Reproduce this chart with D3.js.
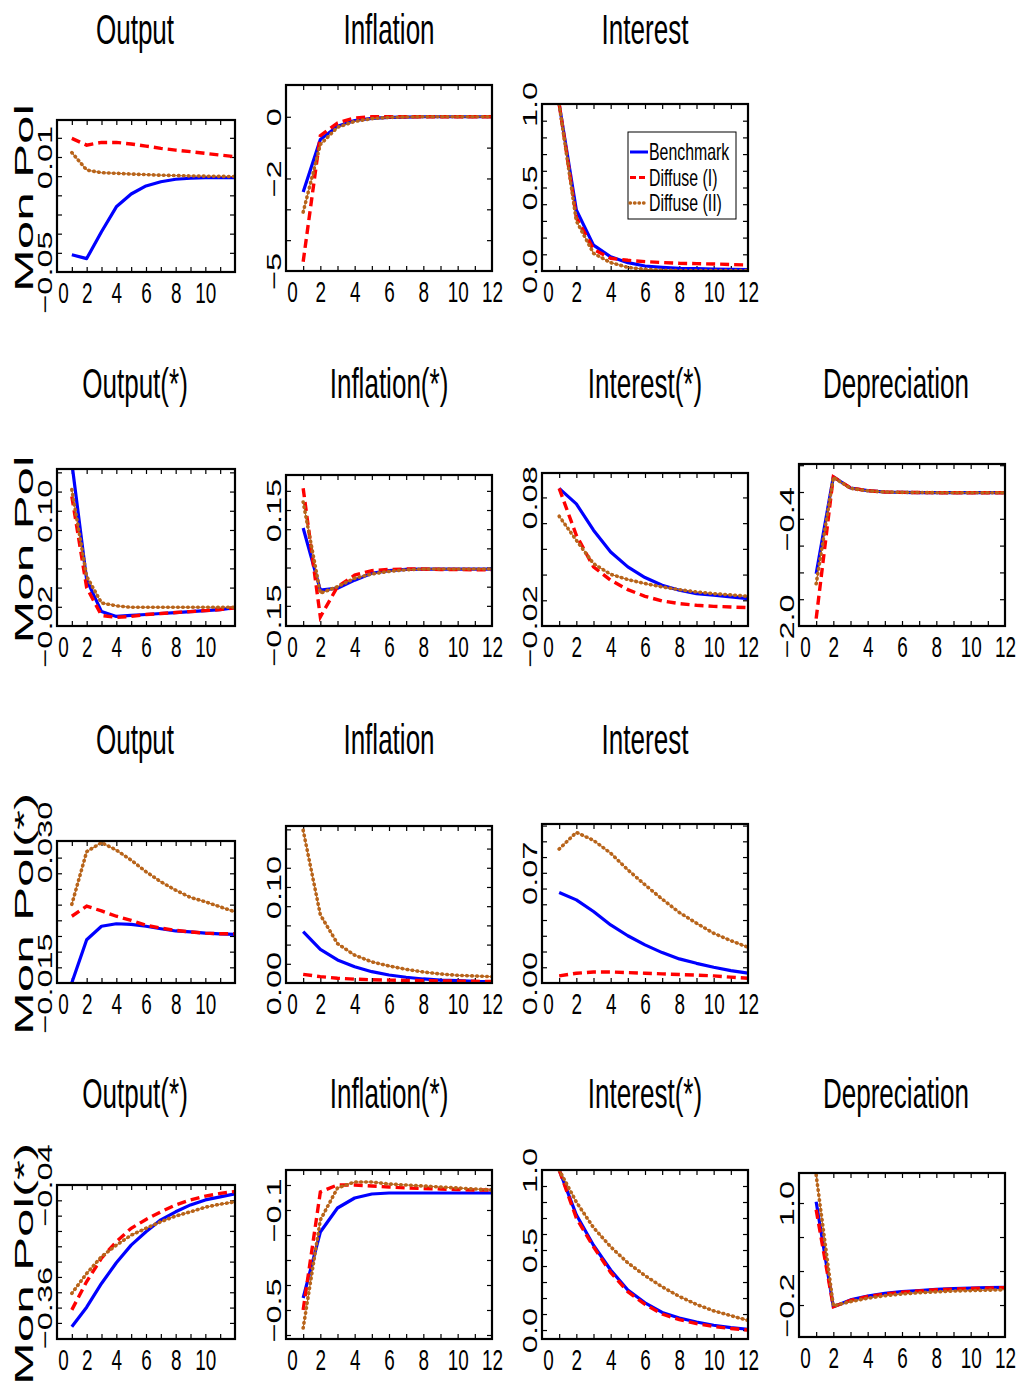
<!DOCTYPE html>
<html>
<head>
<meta charset="utf-8">
<script src="https://cdn.jsdelivr.net/npm/d3@7"></script>
<style>
  body { margin: 0; background: #fff; }
  svg { display: block; }
  text { font-family: 'Liberation Sans', Arial, sans-serif; fill: #000; }
  .frame { fill: none; stroke: #000; stroke-width: 2.2; }
  .ticks line { stroke: #000; stroke-width: 1.2; }
</style>
</head>
<body>
<svg id="irf"></svg>
<script>
// horizons (quarters after the shock)
var horizon = [1, 2, 3, 4, 5, 6, 7, 8, 9, 10, 11, 12];
var seriesNames = ['Benchmark', 'Diffuse (I)', 'Diffuse (II)'];

// --- Mon Pol shock: home variables
var mpOutputBench  = [-0.041, -0.043, -0.029, -0.016, -0.0093, -0.0051, -0.0029, -0.0016, -0.0011, -0.0008, -0.0008, -0.0008];
var mpOutputDiffI  = [0.0197, 0.0162, 0.0176, 0.0176, 0.0168, 0.0157, 0.0145, 0.0136, 0.0128, 0.0119, 0.011, 0.0102];
var mpOutputDiffII = [0.0123, 0.0032, 0.0018, 0.0015, 0.0011, 0.0008, 0.0005, 0.0003, 0.0001, 0, -0.0001, -0.0002];
var mpInflBench  = [-2.44, -0.74, -0.31, -0.12, -0.05, -0.02, -0.01, 0, 0, 0, 0, 0];
var mpInflDiffI  = [-4.7, -0.61, -0.2, -0.04, 0, 0, 0, 0, 0, 0, 0, 0];
var mpInflDiffII = [-3.09, -0.9, -0.34, -0.15, -0.06, -0.02, -0.01, 0, 0, 0, 0, 0];
var mpRateBench  = [1.0, 0.365, 0.155, 0.085, 0.05, 0.03, 0.022, 0.016, 0.014, 0.012, 0.01, 0.009];
var mpRateDiffI  = [1.0, 0.32, 0.13, 0.076, 0.064, 0.056, 0.051, 0.046, 0.044, 0.042, 0.039, 0.036];
var mpRateDiffII = [1.0, 0.30, 0.106, 0.05, 0.022, 0.01, 0.005, 0.003, 0.002, 0.002, 0.002, 0.002];

// --- Mon Pol shock: foreign variables and depreciation
var mpOutputFBench  = [0.15, 0.028, -0.005, -0.010, -0.009, -0.008, -0.007, -0.006, -0.005, -0.004, -0.003, -0.001];
var mpOutputFDiffI  = [0.115, 0.02, -0.009, -0.011, -0.01, -0.008, -0.007, -0.006, -0.005, -0.004, -0.003, -0.001];
var mpOutputFDiffII = [0.122, 0.0316, 0.004, 0.001, -0.0005, -0.0005, -0.0005, -0.0005, -0.0005, -0.0005, -0.0005, -0.0005];
var mpInflFBench  = [0.103, -0.059, -0.054, -0.033, -0.015, -0.008, -0.005, -0.004, -0.004, -0.004, -0.004, -0.004];
var mpInflFDiffI  = [0.207, -0.129, -0.05, -0.02, -0.008, -0.005, -0.004, -0.004, -0.005, -0.005, -0.006, -0.006];
var mpInflFDiffII = [0.171, -0.067, -0.05, -0.028, -0.017, -0.01, -0.006, -0.004, -0.004, -0.004, -0.004, -0.004];
var mpRateFBench  = [0.087, 0.075, 0.0545, 0.0376, 0.026, 0.0177, 0.0117, 0.0078, 0.0052, 0.0039, 0.0026, 0.0013];
var mpRateFDiffI  = [0.087, 0.0506, 0.026, 0.0156, 0.0083, 0.0031, -0.0005, -0.0026, -0.0039, -0.0047, -0.0052, -0.0057];
var mpRateFDiffII = [0.0654, 0.0467, 0.0285, 0.0202, 0.0161, 0.013, 0.0104, 0.0083, 0.0065, 0.0052, 0.0042, 0.0031];
var mpDeprBench  = [-1.22, 0.227, 0.06, 0.02, 0.0, -0.005, -0.008, -0.01, -0.01, -0.01, -0.01, -0.01];
var mpDeprDiffI  = [-1.89, 0.227, 0.06, 0.02, 0.0, -0.005, -0.008, -0.01, -0.01, -0.01, -0.01, -0.01];
var mpDeprDiffII = [-1.37, 0.22, 0.055, 0.018, 0.0, -0.005, -0.008, -0.01, -0.01, -0.01, -0.01, -0.01];

// --- Mon Pol(*) shock: home variables
var fpOutputBench  = [-0.0149, -0.0012, 0.0031, 0.0039, 0.0037, 0.0031, 0.0023, 0.0016, 0.0013, 0.0009, 0.0007, 0.0005];
var fpOutputDiffI  = [0.0063, 0.0095, 0.008, 0.0063, 0.005, 0.0034, 0.0025, 0.0018, 0.0013, 0.0009, 0.0007, 0.0007];
var fpOutputDiffII = [0.0101, 0.0269, 0.0298, 0.0274, 0.0242, 0.0205, 0.0173, 0.0146, 0.0123, 0.0109, 0.0093, 0.0077];
var fpInflBench  = [0.0535, 0.035, 0.024, 0.017, 0.0118, 0.0083, 0.006, 0.0042, 0.003, 0.0024, 0.0017, 0.0014];
var fpInflDiffI  = [0.009, 0.0066, 0.005, 0.004, 0.0034, 0.003, 0.0027, 0.0024, 0.0022, 0.002, 0.0018, 0.0016];
var fpInflDiffII = [0.159, 0.071, 0.041, 0.029, 0.022, 0.0177, 0.0142, 0.0115, 0.0094, 0.008, 0.0073, 0.0066];
var fpRateBench  = [0.0575, 0.0528, 0.0454, 0.0369, 0.03, 0.0242, 0.0193, 0.0153, 0.0125, 0.01, 0.0079, 0.0062];
var fpRateDiffI  = [0.0045, 0.0062, 0.007, 0.007, 0.0066, 0.0062, 0.0058, 0.0054, 0.005, 0.0045, 0.0037, 0.003];
var fpRateDiffII = [0.0851, 0.0957, 0.0906, 0.0825, 0.0719, 0.0624, 0.0533, 0.0448, 0.038, 0.0316, 0.0269, 0.0227];

// --- Mon Pol(*) shock: foreign variables and depreciation
var fpOutputFBench  = [-0.41, -0.359, -0.297, -0.243, -0.197, -0.162, -0.131, -0.11, -0.092, -0.079, -0.071, -0.063];
var fpOutputFDiffI  = [-0.366, -0.292, -0.231, -0.188, -0.153, -0.13, -0.11, -0.092, -0.079, -0.069, -0.062, -0.057];
var fpOutputFDiffII = [-0.323, -0.271, -0.227, -0.197, -0.171, -0.153, -0.136, -0.121, -0.11, -0.098, -0.09, -0.084];
var fpInflFBench  = [-0.452, -0.188, -0.092, -0.052, -0.036, -0.032, -0.032, -0.032, -0.032, -0.032, -0.032, -0.032];
var fpInflFDiffI  = [-0.5, -0.028, 0.0, 0.0, -0.004, -0.008, -0.012, -0.014, -0.016, -0.018, -0.02, -0.02];
var fpInflFDiffII = [-0.572, -0.14, -0.012, 0.012, 0.012, 0.004, 0.0, -0.004, -0.008, -0.012, -0.016, -0.02];
var fpRateFBench  = [1.0, 0.72, 0.53, 0.375, 0.25, 0.17, 0.11, 0.075, 0.05, 0.03, 0.015, 0.005];
var fpRateFDiffI  = [1.0, 0.70, 0.52, 0.36, 0.24, 0.16, 0.1, 0.065, 0.04, 0.022, 0.01, 0.0];
var fpRateFDiffII = [1.0, 0.8, 0.64, 0.52, 0.42, 0.34, 0.27, 0.21, 0.16, 0.12, 0.09, 0.06];
var fpDeprBench  = [1.015, -0.22, -0.14, -0.094, -0.063, -0.043, -0.03, -0.015, -0.008, 0.0, 0.004, 0.008];
var fpDeprDiffI  = [0.92, -0.22, -0.145, -0.1, -0.07, -0.05, -0.035, -0.02, -0.012, -0.005, 0.0, 0.004];
var fpDeprDiffII = [1.33, -0.21, -0.16, -0.12, -0.09, -0.07, -0.055, -0.045, -0.035, -0.03, -0.025, -0.02];

// titles and row labels
var rowTitles = [
  ['Output', 'Inflation', 'Interest'],
  ['Output(*)', 'Inflation(*)', 'Interest(*)', 'Depreciation'],
  ['Output', 'Inflation', 'Interest'],
  ['Output(*)', 'Inflation(*)', 'Interest(*)', 'Depreciation']
];
var rowLabels = ['Mon Pol', 'Mon Pol', 'Mon Pol(*)', 'Mon Pol(*)'];
var xTickLabels = [0, 2, 4, 6, 8, 10, 12];

// y tick labels (value / printed text) per panel
var yLab_mpOutput = [-0.05, 0.01],   yTxt_mpOutput = ['\u22120.05', '0.01'];
var yLab_mpInfl   = [-5, -2, 0],     yTxt_mpInfl   = ['\u22125', '\u22122', '0'];
var yLab_mpRate   = [0, 0.5, 1.0],   yTxt_mpRate   = ['0.0', '0.5', '1.0'];
var yLab_mpOutputF = [-0.02, 0.10],  yTxt_mpOutputF = ['\u22120.02', '0.10'];
var yLab_mpInflF   = [-0.15, 0.15],  yTxt_mpInflF   = ['\u22120.15', '0.15'];
var yLab_mpRateF   = [-0.02, 0.08],  yTxt_mpRateF   = ['\u22120.02', '0.08'];
var yLab_mpDepr    = [-2.0, -0.4],   yTxt_mpDepr    = ['\u22122.0', '\u22120.4'];
var yLab_fpOutput = [-0.015, 0.030], yTxt_fpOutput = ['\u22120.015', '0.030'];
var yLab_fpInfl   = [0, 0.10],       yTxt_fpInfl   = ['0.00', '0.10'];
var yLab_fpRate   = [0, 0.07],       yTxt_fpRate   = ['0.00', '0.07'];
var yLab_fpOutputF = [-0.36, -0.04], yTxt_fpOutputF = ['\u22120.36', '\u22120.04'];
var yLab_fpInflF   = [-0.5, -0.1],   yTxt_fpInflF   = ['\u22120.5', '\u22120.1'];
var yLab_fpRateF   = [0, 0.5, 1.0],  yTxt_fpRateF   = ['0.0', '0.5', '1.0'];
var yLab_fpDepr    = [-0.2, 1.0],    yTxt_fpDepr    = ['\u22120.2', '1.0'];

var irf = {
  width: 1017,
  height: 1389,
  colX: [57, 286, 542, 799],
  colW: [178, 206, 206, 206],
  titleX: [135, 389, 645, 896],
  titleY: [44, 398, 754, 1108],
  colors: ['#0000ff', '#ff0000', '#b8641a'],

  init: function() {
    var self = this;
    self.svg = d3.select('#irf')
        .attr('width', self.width)
        .attr('height', self.height);
    self.svg.append('rect').attr('width', self.width).attr('height', self.height).attr('fill', '#fff');
    self.defs = self.svg.append('defs');

    self.panels = [
      {row: 0, col: 0, top: 120, bottom: 272, domain: [-0.05, 0.0293], step: 0.01, base: -0.05,
       labels: yLab_mpOutput, texts: yTxt_mpOutput, series: [mpOutputBench, mpOutputDiffI, mpOutputDiffII]},
      {row: 0, col: 1, top: 85, bottom: 271, domain: [-5, 1.03], step: 1, base: 0,
       labels: yLab_mpInfl, texts: yTxt_mpInfl, series: [mpInflBench, mpInflDiffI, mpInflDiffII]},
      {row: 0, col: 2, top: 104, bottom: 271, domain: [0, 1.0], step: 0.1, base: 0,
       labels: yLab_mpRate, texts: yTxt_mpRate, series: [mpRateBench, mpRateDiffI, mpRateDiffII]},

      {row: 1, col: 0, top: 469, bottom: 626, domain: [-0.02, 0.1435], step: 0.02, base: -0.02,
       labels: yLab_mpOutputF, texts: yTxt_mpOutputF, series: [mpOutputFBench, mpOutputFDiffI, mpOutputFDiffII]},
      {row: 1, col: 1, top: 475, bottom: 626, domain: [-0.1526, 0.2414], step: 0.05, base: 0.15,
       labels: yLab_mpInflF, texts: yTxt_mpInflF, series: [mpInflFBench, mpInflFDiffI, mpInflFDiffII]},
      {row: 1, col: 2, top: 473, bottom: 626, domain: [-0.02, 0.099], step: 0.02, base: -0.02,
       labels: yLab_mpRateF, texts: yTxt_mpRateF, series: [mpRateFBench, mpRateFDiffI, mpRateFDiffII]},
      {row: 1, col: 3, top: 464, bottom: 626, domain: [-2.0, 0.418], step: 0.4, base: -2.0,
       labels: yLab_mpDepr, texts: yTxt_mpDepr, series: [mpDeprBench, mpDeprDiffI, mpDeprDiffII]},

      {row: 2, col: 0, top: 841, bottom: 983, domain: [-0.015, 0.0303], step: 0.005, base: 0.03,
       labels: yLab_fpOutput, texts: yTxt_fpOutput, series: [fpOutputBench, fpOutputDiffI, fpOutputDiffII]},
      {row: 2, col: 1, top: 826, bottom: 983, domain: [0, 0.1635], step: 0.02, base: 0,
       labels: yLab_fpInfl, texts: yTxt_fpInfl, series: [fpInflBench, fpInflDiffI, fpInflDiffII]},
      {row: 2, col: 2, top: 824, bottom: 983, domain: [0, 0.101], step: 0.01, base: 0,
       labels: yLab_fpRate, texts: yTxt_fpRate, series: [fpRateBench, fpRateDiffI, fpRateDiffII]},

      {row: 3, col: 0, top: 1185, bottom: 1339, domain: [-0.442, -0.04], step: 0.04, base: -0.04,
       labels: yLab_fpOutputF, texts: yTxt_fpOutputF, series: [fpOutputFBench, fpOutputFDiffI, fpOutputFDiffII]},
      {row: 3, col: 1, top: 1170, bottom: 1339, domain: [-0.616, 0.06], step: 0.1, base: -0.1,
       labels: yLab_fpInflF, texts: yTxt_fpInflF, series: [fpInflFBench, fpInflFDiffI, fpInflFDiffII]},
      {row: 3, col: 2, top: 1170, bottom: 1339, domain: [-0.056, 1.0], step: 0.1, base: 0,
       labels: yLab_fpRateF, texts: yTxt_fpRateF, series: [fpRateFBench, fpRateFDiffI, fpRateFDiffII]},
      {row: 3, col: 3, top: 1173, bottom: 1337, domain: [-0.576, 1.353], step: 0.4, base: -0.2,
       labels: yLab_fpDepr, texts: yTxt_fpDepr, series: [fpDeprBench, fpDeprDiffI, fpDeprDiffII]}
    ];

    self.panels.forEach(function(p) { self.drawPanel(p); });
    self.drawTitles();
    self.drawLegend();
  },

  drawTitles: function() {
    var self = this;
    rowTitles.forEach(function(titles, r) {
      titles.forEach(function(t, c) {
        self.svg.append('text')
            .attr('transform', 'translate(' + self.titleX[c] + ',' + self.titleY[r] + ') scale(0.62,1)')
            .attr('text-anchor', 'middle')
            .attr('font-size', 42)
            .text(t);
      });
    });

    // row labels, centred on the first frame of each row
    var firstCol = self.panels.filter(function(p) { return p.col === 0; });
    firstCol.forEach(function(p, r) {
      self.svg.append('text')
          .attr('transform', 'translate(33,' + ((p.top + p.bottom) / 2 + 2) + ') rotate(-90) scale(2.05,1)')
          .attr('text-anchor', 'middle')
          .attr('font-size', 25)
          .text(rowLabels[r]);
    });
  },

  drawPanel: function(p) {
    var self = this;
    var x0 = self.colX[p.col], w = self.colW[p.col];

    var x = d3.scaleLinear().domain([0, 12]).range([x0, x0 + w]);
    var y = d3.scaleLinear().domain(p.domain).range([p.bottom, p.top]);

    var g = self.svg.append('g').attr('class', 'panel');

    var clipId = 'clip-' + p.row + '-' + p.col;
    self.defs.append('clipPath').attr('id', clipId)
      .append('rect')
        .attr('x', x0).attr('y', p.top)
        .attr('width', w).attr('height', p.bottom - p.top);

    // tick values every `step` from `base`
    var k0 = Math.ceil((p.domain[0] - p.base) / p.step - 1e-6),
        k1 = Math.floor((p.domain[1] - p.base) / p.step + 1e-6);
    var yTicks = d3.range(k0, k1 + 1).map(function(k) { return p.base + k * p.step; })
        .filter(function(v) { return y(v) > p.top + 1 && y(v) < p.bottom - 1; });
    var xTicks = d3.range(1, 12);

    var inner = [
      {axis: d3.axisLeft(y).tickValues(yTicks), tr: 'translate(' + x0 + ',0)'},
      {axis: d3.axisRight(y).tickValues(yTicks), tr: 'translate(' + (x0 + w) + ',0)'},
      {axis: d3.axisBottom(x).tickValues(xTicks), tr: 'translate(0,' + p.bottom + ')'},
      {axis: d3.axisTop(x).tickValues(xTicks), tr: 'translate(0,' + p.top + ')'}
    ];
    inner.forEach(function(a) {
      var t = g.append('g').attr('class', 'ticks').attr('transform', a.tr)
          .call(a.axis.tickSize(-5).tickFormat(''));
      t.select('.domain').remove();
    });

    // series
    var line = d3.line()
        .x(function(d, i) { return x(horizon[i]); })
        .y(function(d) { return y(d); });

    var lines = g.append('g').attr('clip-path', 'url(#' + clipId + ')');
    lines.append('path').datum(p.series[0])
        .attr('d', line).attr('fill', 'none')
        .attr('stroke', self.colors[0]).attr('stroke-width', 3.2)
        .attr('stroke-linejoin', 'round');
    lines.append('path').datum(p.series[1])
        .attr('d', line).attr('fill', 'none')
        .attr('stroke', self.colors[1]).attr('stroke-width', 3.4)
        .attr('stroke-dasharray', '9,5');
    lines.append('path').datum(p.series[2])
        .attr('d', line).attr('fill', 'none')
        .attr('stroke', self.colors[2]).attr('stroke-width', 1);
    lines.append('path').datum(p.series[2])
        .attr('d', line).attr('fill', 'none')
        .attr('stroke', self.colors[2]).attr('stroke-width', 3.6)
        .attr('stroke-linecap', 'round')
        .attr('stroke-dasharray', '0.5,4.5');

    g.append('rect').attr('class', 'frame')
        .attr('x', x0).attr('y', p.top)
        .attr('width', w).attr('height', p.bottom - p.top);

    // x labels
    var xl = g.append('g').attr('transform', 'translate(0,' + p.bottom + ')')
        .call(d3.axisBottom(x)
          .tickValues(p.col === 0 ? xTickLabels.slice(0, 6) : xTickLabels)
          .tickSize(0).tickFormat(d3.format('d')));
    xl.select('.domain').remove();
    xl.selectAll('text')
        .attr('y', null).attr('dy', null)
        .attr('font-size', 30)
        .attr('fill', '#000')
        .attr('transform', function(d) {
          return 'translate(' + (d === 0 ? 6 : 0) + ',31) scale(0.63,1)';
        });

    // y labels (rotated)
    var yl = g.append('g').attr('transform', 'translate(' + x0 + ',0)')
        .call(d3.axisLeft(y).tickValues(p.labels).tickSize(0)
          .tickFormat(function(d, i) { return p.texts[i]; }));
    yl.select('.domain').remove();
    yl.selectAll('text')
        .attr('x', null).attr('dy', null)
        .attr('text-anchor', 'middle')
        .attr('font-size', 21)
        .attr('fill', '#000')
        .attr('transform', 'translate(-5,0) rotate(-90) scale(1.55,1)');
  },

  drawLegend: function() {
    var self = this;
    var lg = self.svg.append('g').attr('transform', 'translate(628,132)');
    lg.append('rect').attr('width', 108).attr('height', 87)
        .attr('fill', '#fff').attr('stroke', '#000').attr('stroke-width', 1);

    var item = lg.selectAll('.item').data(seriesNames).join('g')
        .attr('class', 'item')
        .attr('transform', function(d, i) { return 'translate(0,' + (20 + i * 25.5) + ')'; });

    item.append('line').attr('x1', 2).attr('x2', 20).attr('y1', 0).attr('y2', 0)
        .attr('stroke', function(d, i) { return self.colors[i]; })
        .attr('stroke-width', function(d, i) { return i === 2 ? 3.4 : 3; })
        .attr('stroke-linecap', function(d, i) { return i === 2 ? 'round' : 'butt'; })
        .attr('stroke-dasharray', function(d, i) { return i === 1 ? '6,3' : (i === 2 ? '0.5,4' : null); });

    item.append('text')
        .attr('transform', 'translate(21,8) scale(0.69,1)')
        .attr('font-size', 23)
        .text(function(d) { return d; });
  }
};

irf.init();
</script>
</body>
</html>
